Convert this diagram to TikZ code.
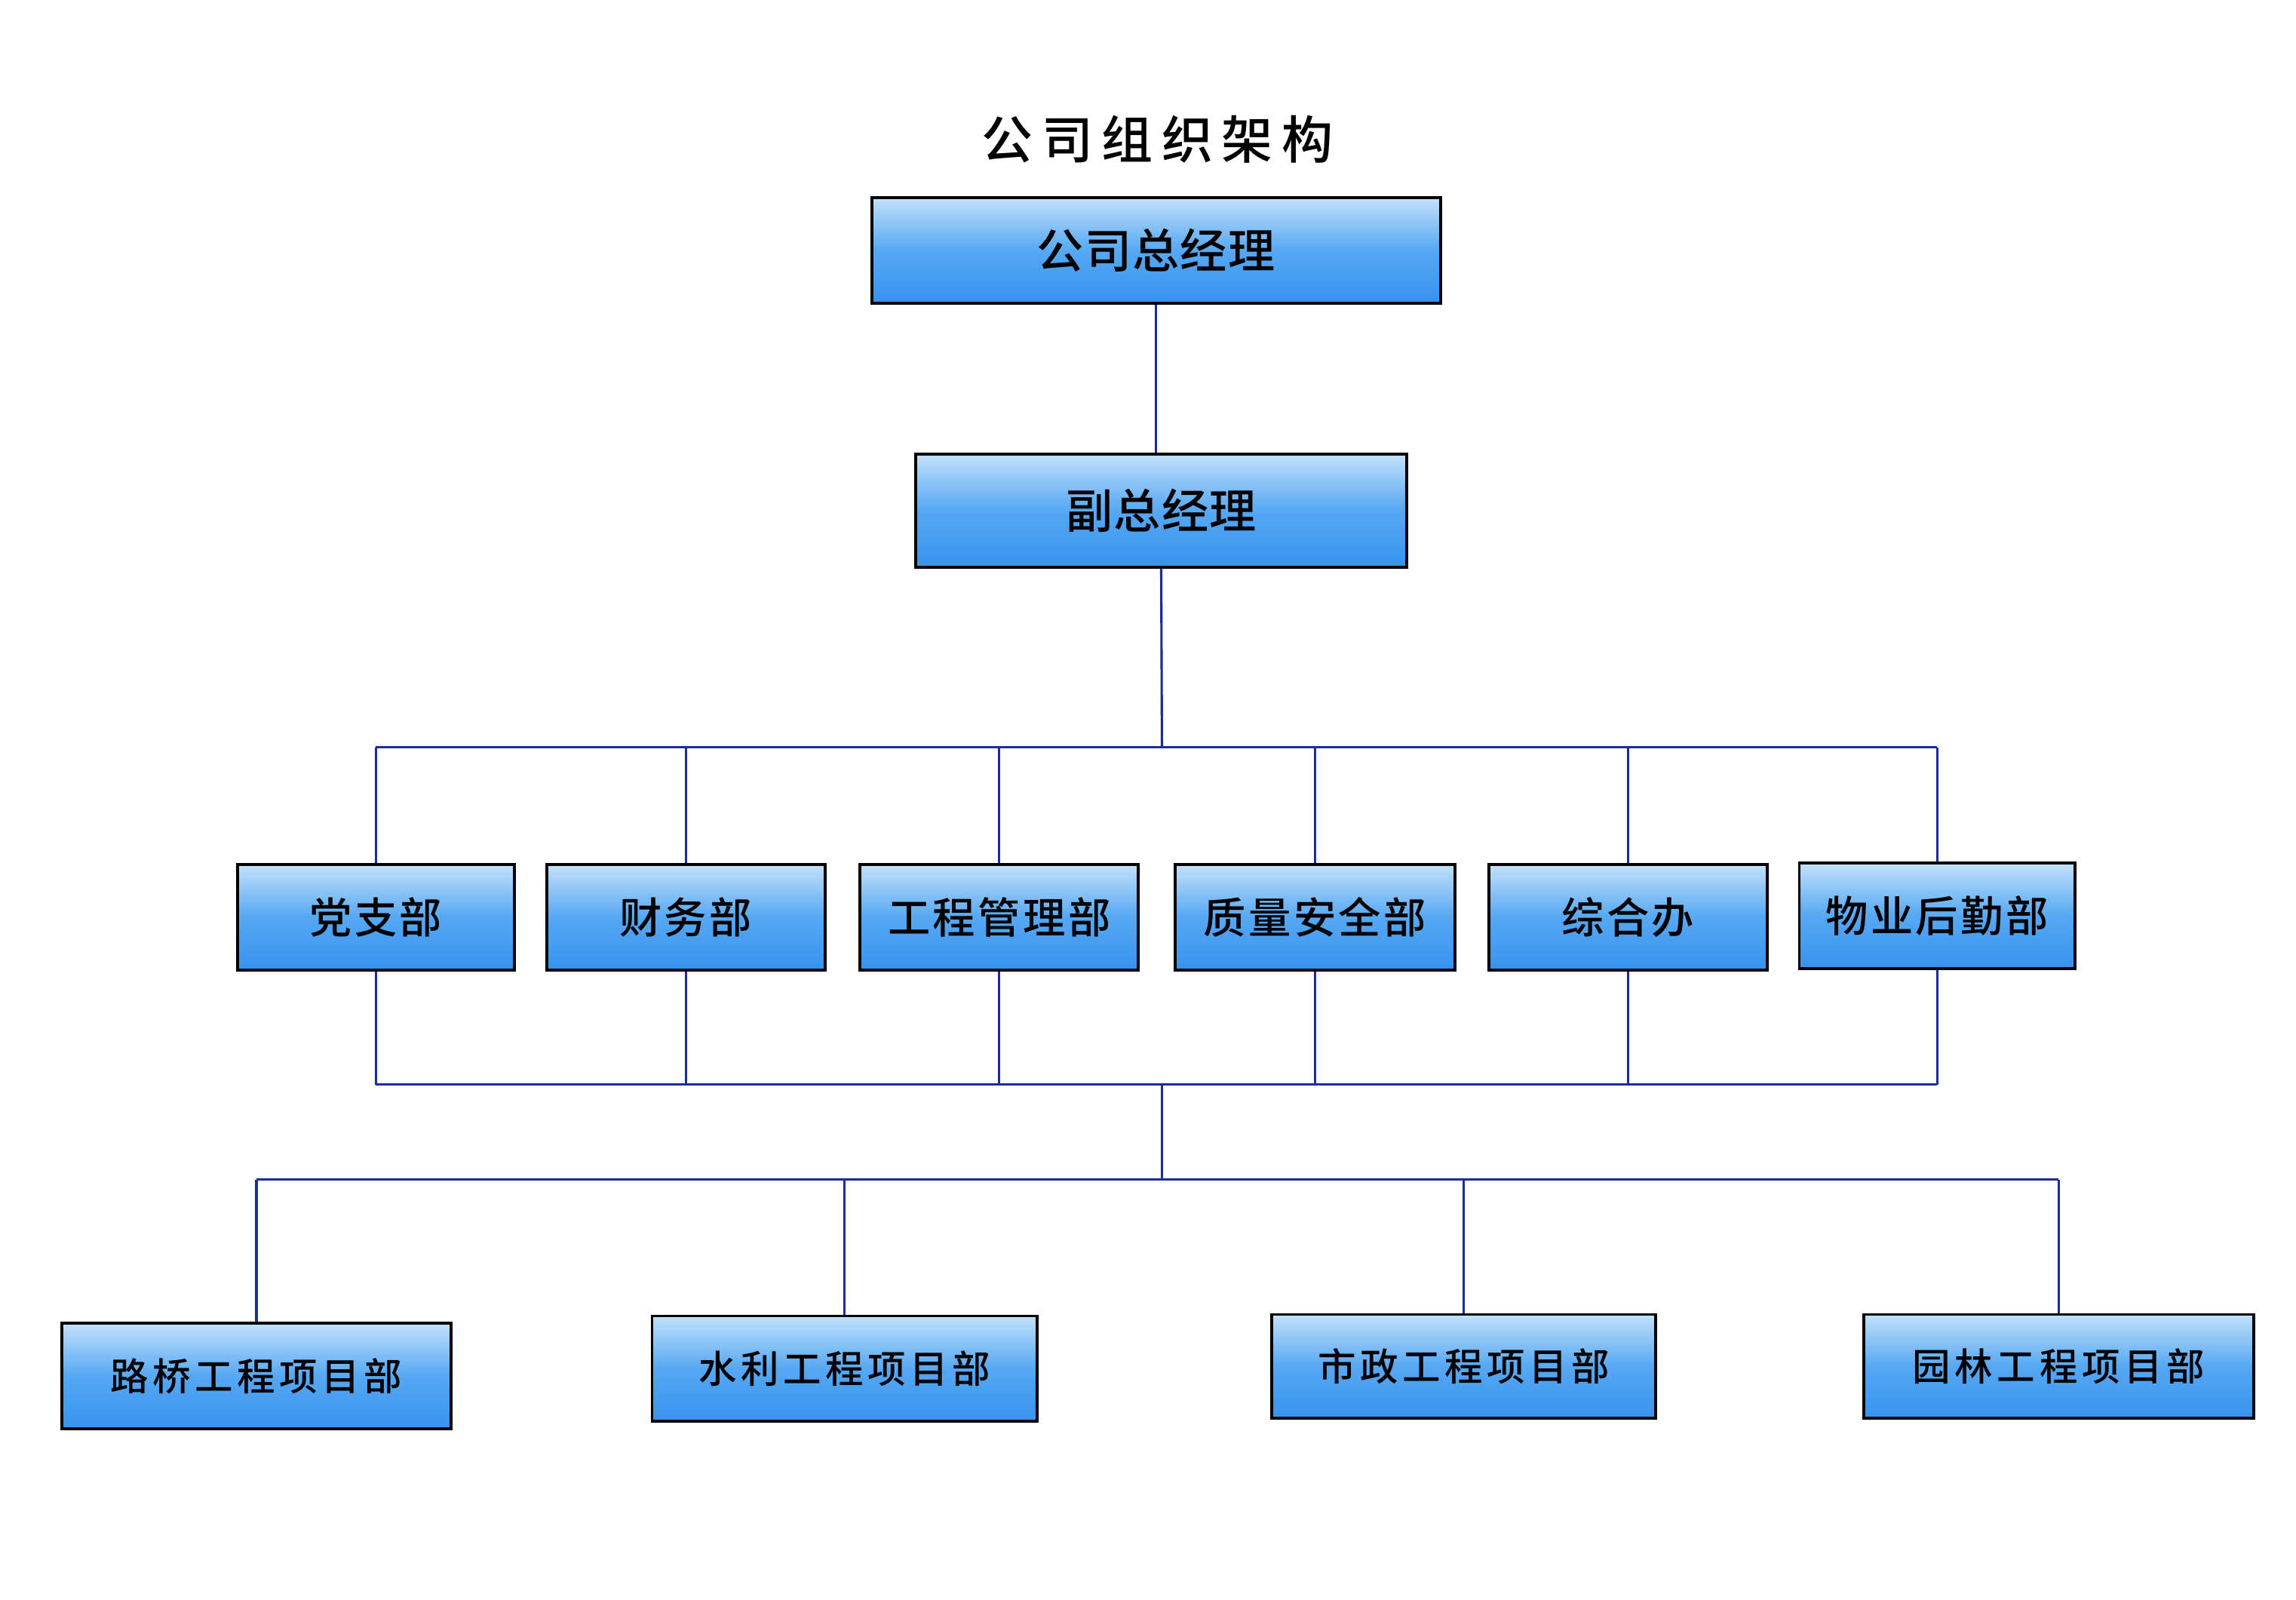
\documentclass[tikz,border=0pt]{standalone}
\usepackage{fontspec}
\newfontfamily\cjktitle{Noto Sans CJK SC Medium}[LetterSpace=17]
\newfontfamily\cjktop{Noto Sans CJK SC Medium}[LetterSpace=2]
\newfontfamily\cjkmid{Noto Sans CJK SC Medium}[LetterSpace=6]
\newfontfamily\cjkbot{Noto Sans CJK SC Medium}[LetterSpace=11]
\definecolor{boxtop}{HTML}{C2E1FB}
\definecolor{boxmid}{HTML}{55A8F2}
\definecolor{boxbot}{HTML}{3892EE}
\definecolor{wire}{HTML}{1C2C98}
\tikzset{
  orgbox/.style={draw=black, line width=1pt, rectangle, inner sep=0pt,
    top color=boxtop, bottom color=boxbot, middle color=boxmid, text=black},
  topbox/.style={orgbox, font=\cjktop\fontsize{16}{18}\selectfont},
  midbox/.style={orgbox, font=\cjkmid\fontsize{14.5}{16}\selectfont},
  botbox/.style={orgbox, font=\cjkbot\fontsize{13}{15}\selectfont},
  wireline/.style={draw=wire, line width=0.8pt}
}
\begin{document}
\begin{tikzpicture}[x=0.5pt,y=-0.5pt]
\fill[white] (0,0) rectangle (1567,1091.8);
\useasboundingbox (0,0) rectangle (1567,1091.8);

\node[font=\cjktitle\fontsize{17.5}{20}\selectfont] (title) at (790,95) {公司组织架构};

\node[topbox, minimum width=194pt, minimum height=36pt] (gm) at (789,171) {公司总经理};
\node[topbox, minimum width=167.5pt, minimum height=38.5pt] (vgm) at (792.5,348.5) {副总经理};

\node[midbox, minimum width=94.5pt, minimum height=36pt] (d1) at (256.5,626) {党支部};
\node[midbox, minimum width=95pt, minimum height=36pt] (d2) at (468,626) {财务部};
\node[midbox, minimum width=95pt, minimum height=36pt] (d3) at (682,626) {工程管理部};
\node[midbox, minimum width=95.5pt, minimum height=36pt] (d4) at (897.5,626) {质量安全部};
\node[midbox, minimum width=95pt, minimum height=36pt] (d5) at (1111,626) {综合办};
\node[midbox, minimum width=94pt, minimum height=36pt] (d6) at (1322,625) {物业后勤部};

\node[botbox, minimum width=133pt, minimum height=36pt] (p1) at (175,939) {路桥工程项目部};
\node[botbox, minimum width=131.5pt, minimum height=36pt] (p2) at (576.5,934) {水利工程项目部};
\node[botbox, minimum width=131pt, minimum height=35.5pt] (p3) at (999,932.5) {市政工程项目部};
\node[botbox, minimum width=133pt, minimum height=35.5pt] (p4) at (1405,932.5) {园林工程项目部};

\coordinate (b1) at (793,510);
\coordinate (b2) at (793,740);
\coordinate (b3) at (793,805);

\draw[wireline] (gm.south) -- (gm.south |- vgm.north);
\draw[wireline] (vgm.south) -- (b1);
\draw[wireline] (d1.north |- b1) -- (d6.north |- b1);
\foreach \d in {d1,d2,d3,d4,d5,d6} {
  \draw[wireline] (\d.north |- b1) -- (\d.north);
  \draw[wireline] (\d.south) -- (\d.south |- b2);
}
\draw[wireline] (d1.south |- b2) -- (d6.south |- b2);
\draw[wireline] (b2) -- (b3);
\draw[wireline] (p1.north |- b3) -- (p4.north |- b3);
\foreach \p in {p1,p2,p3,p4} {
  \draw[wireline] (\p.north |- b3) -- (\p.north);
}
\end{tikzpicture}
\end{document}
